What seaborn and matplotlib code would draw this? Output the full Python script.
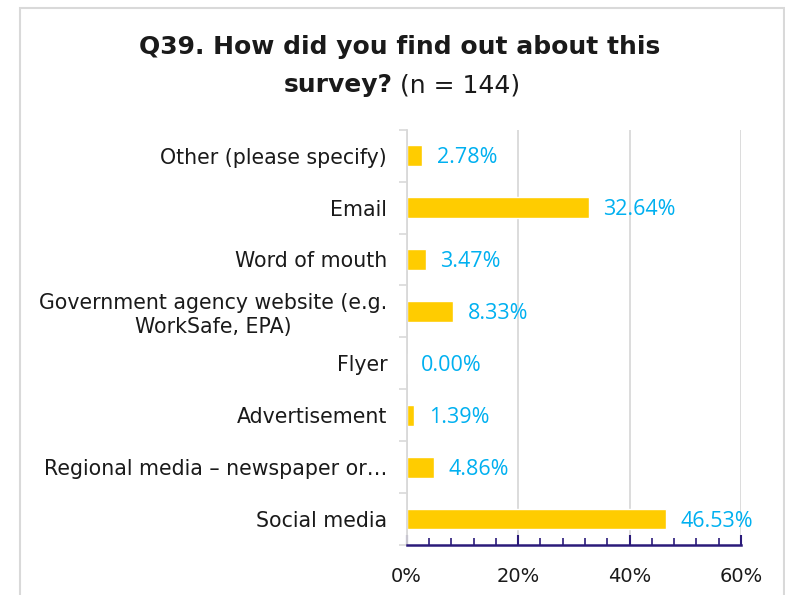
import matplotlib.pyplot as plt
import seaborn as sns
import pandas as pd
from matplotlib.ticker import MultipleLocator, PercentFormatter
from matplotlib.patches import Rectangle

categories = ["Other (please specify)", "Email", "Word of mouth",
              "Government agency website (e.g.\nWorkSafe, EPA)", "Flyer",
              "Advertisement", "Regional media \u2013 newspaper or\u2026", "Social media"]
percents = [2.78, 32.64, 3.47, 8.33, 0.00, 1.39, 4.86, 46.53]
x_ticks = [0, 20, 40, 60]

df = pd.DataFrame({'Source': categories, 'Percent': percents})

sns.set_theme(style='white')
plt.rcParams['font.family'] = ['DejaVu Sans']

fig = plt.figure(figsize=(7.85, 5.95), dpi=100)
ax = fig.add_axes([0.518, 0.084, 0.426, 0.698])

sns.barplot(data=df, y='Source', x='Percent', orient='h', color='#FFCC00',
            saturation=1, width=0.4, ax=ax, order=categories)

# data labels
for i, v in enumerate(percents):
    ax.text(v + 2.6, i + 0.04, f"{v:.2f}%", va='center', ha='left', fontsize=15.5,
            color='#00B0F0', family='Open Sans')

ax.set_xlim(0, 60)
ax.set_ylim(len(categories) - 0.5, -0.5)
ax.set_xticks(x_ticks)
ax.xaxis.set_minor_locator(MultipleLocator(4))
ax.xaxis.set_major_formatter(PercentFormatter(decimals=0))
ax.grid(axis='x', color='#D9D9D9', linewidth=1.3)
ax.set_axisbelow(True)
ax.set_xlabel('')
ax.set_ylabel('')

# y axis: gray line, ticks between categories
ax.set_yticks(range(len(categories)))
ax.set_yticks([i - 0.5 for i in range(len(categories) + 1)], minor=True)
ax.tick_params(axis='y', which='major', left=True, length=0, pad=14,
               labelsize=14.8, labelcolor='#1a1a1a')
ax.tick_params(axis='y', which='minor', left=True, length=6, color='#D9D9D9',
               width=1.2, direction='out')
for lab in ax.get_yticklabels():
    lab.set_multialignment('center')

ax.tick_params(axis='x', which='major', bottom=True, length=7, width=1.5, color='#2B1A7A',
               direction='in', pad=16, labelsize=14, labelcolor='#1a1a1a')
ax.tick_params(axis='x', which='minor', bottom=True, length=5, width=1.2,
               color='#2B1A7A', direction='in')

for s in ['top', 'right']:
    ax.spines[s].set_visible(False)
ax.spines['left'].set_color('#D9D9D9')
ax.spines['left'].set_linewidth(1.3)
ax.spines['bottom'].set_color('#2B1A7A')
ax.spines['bottom'].set_linewidth(1.8)

# title
fig.text(0.509, 0.921, "Q39. How did you find out about this", ha='center', va='center',
         fontsize=18, fontweight='bold', color='#1a1a1a')
fig.text(0.500, 0.857, "survey?", ha='right', va='center',
         fontsize=18, fontweight='bold', color='#1a1a1a')
fig.text(0.510, 0.857, "(n = 144)", ha='left', va='center',
         fontsize=18, color='#1a1a1a')

# chart frame
fig.patches.append(Rectangle((20 / 785, -0.1), (784 - 20) / 785, 1.1 - 8 / 595,
                             transform=fig.transFigure, fill=False,
                             edgecolor='#D9D9D9', linewidth=1.5))

plt.savefig('out.png', dpi=100)
